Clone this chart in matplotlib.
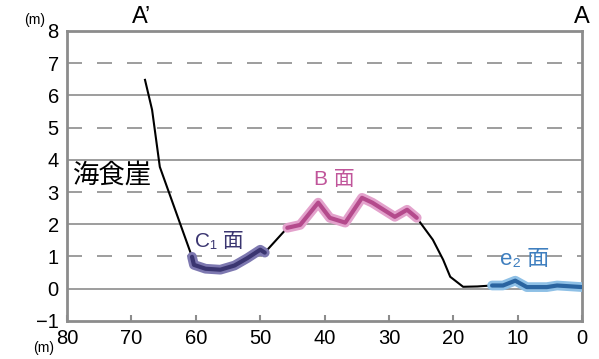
import matplotlib.pyplot as plt

plt.rcParams['font.family'] = ['Liberation Sans', 'Noto Sans CJK JP']

# Profile A'-A (distance from A in m, height in m)
cliff_x = [67.9, 66.8, 65.6, 60.6]
cliff_y = [6.48, 5.55, 3.78, 0.99]
c1_x = [60.6, 60.3, 58.5, 56.2, 54.0, 52.0, 50.0, 49.3]
c1_y = [0.99, 0.74, 0.62, 0.59, 0.72, 0.95, 1.21, 1.12]
mid_x = [49.3, 45.8]
mid_y = [1.12, 1.89]
b_x = [45.8, 43.8, 41.0, 39.2, 36.8, 34.2, 32.6, 29.1, 27.2, 25.7]
b_y = [1.89, 1.98, 2.67, 2.20, 2.05, 2.82, 2.67, 2.23, 2.45, 2.20]
low_x = [25.7, 23.2, 21.6, 20.5, 18.5, 16.3, 14.0]
low_y = [2.20, 1.52, 0.90, 0.37, 0.06, 0.07, 0.10]
e2_x = [14.0, 12.3, 10.4, 8.6, 5.5, 3.9, 0.0]
e2_y = [0.10, 0.10, 0.25, 0.05, 0.05, 0.10, 0.05]

fig = plt.figure(figsize=(5.99, 3.59), dpi=100)
ax = fig.add_axes([0.112, 0.106, 0.860, 0.808])

grid_c = '#8c8c8c'
for y in range(0, 8):
    if y % 2 == 0:
        ax.axhline(y, color=grid_c, lw=1.2, zorder=1)
    else:
        ax.axhline(y, color=grid_c, lw=1.2, ls=(0, (9, 9)), zorder=1)

# black profile
for xs, ys in [(cliff_x, cliff_y), (mid_x, mid_y), (low_x, low_y)]:
    ax.plot(xs, ys, color='black', lw=1.5, zorder=3)

# highlighted surfaces
def surface(xs, ys, dark, light):
    ax.plot(xs, ys, color=light, lw=7, solid_capstyle='round',
            solid_joinstyle='round', zorder=4)
    ax.plot(xs, ys, color=dark, lw=3, solid_capstyle='round',
            solid_joinstyle='round', zorder=5)

surface(c1_x, c1_y, '#3a3570', '#7d78b0')
surface(b_x, b_y, '#b44a8c', '#e3a2cc')
surface(e2_x, e2_y, '#2a64a0', '#8ec0e6')

ax.set_xlim(80, 0)
ax.set_ylim(-1, 8)
ax.set_xticks(range(80, -1, -10))
ax.set_yticks(range(-1, 9))
ax.set_yticklabels(['\u22121'] + [str(v) for v in range(0, 9)])
ax.tick_params(axis='x', direction='in', length=4, width=1.5, color=grid_c,
               labelsize=14.5, pad=6)
ax.tick_params(axis='y', length=0, labelsize=14.5, pad=6)
for s in ax.spines.values():
    s.set_color(grid_c)
    s.set_linewidth(2)

fig.text(0.04, 0.925, '(m)', fontsize=10, ha='left', va='bottom')
fig.text(0.055, 0.01, '(m)', fontsize=10, ha='left', va='bottom')
ax.text(68.4, 8.1, 'A\u2019', fontsize=17, ha='center', va='bottom')
ax.text(0, 8.1, 'A', fontsize=17, ha='center', va='bottom')

ax.text(79.1, 3.53, '海食崖', fontsize=19, ha='left', va='center', color='black')
ax.text(60.2, 1.46, 'C\u2081 面', fontsize=15, ha='left', va='center', color='#3a3570')
ax.text(41.7, 3.38, 'B 面', fontsize=15, ha='left', va='center', color='#c0559a')
ax.text(12.7, 0.9, 'e\u2082 面', fontsize=16, ha='left', va='center', color='#3f7fbf')

fig.savefig('out.png', dpi=100)
